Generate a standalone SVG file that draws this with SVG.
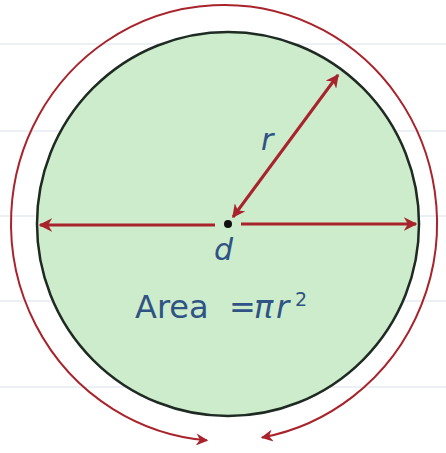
<svg xmlns="http://www.w3.org/2000/svg" width="446" height="453" viewBox="0 0 446 453">
<defs>
<style>
.grid{stroke:#e4ebf0;stroke-width:1.5}
.red{stroke:#a8232b;fill:none}
.lbl{fill:#2f5384;font-family:"DejaVu Sans",Verdana,sans-serif}
</style>
<marker id="ah" viewBox="0 0 10 10" refX="9" refY="5" markerWidth="4.5" markerHeight="4.5" orient="auto-start-reverse" markerUnits="strokeWidth">
<path d="M0,0 L10,5 L0,10 L3,5 Z" fill="#a8232b"/>
</marker>
<marker id="ah2" viewBox="0 0 10 10" refX="9" refY="5" markerWidth="6.5" markerHeight="6" orient="auto-start-reverse" markerUnits="strokeWidth">
<path d="M0,0 L10,5 L0,10 L3,5 Z" fill="#a8232b"/>
</marker>
</defs>
<rect width="446" height="453" fill="#ffffff"/>
<g id="background">
<line class="grid" x1="0" y1="44" x2="446" y2="44"/>
<line class="grid" x1="0" y1="131" x2="446" y2="131"/>
<line class="grid" x1="0" y1="216" x2="446" y2="216"/>
<line class="grid" x1="0" y1="301" x2="446" y2="301"/>
<line class="grid" x1="0" y1="387" x2="446" y2="387"/>
</g>
<g id="circle">
<ellipse cx="228" cy="224" rx="191" ry="192" fill="#cdeccb" stroke="#1e2a22" stroke-width="2.5"/>
<circle cx="228" cy="224" r="4" fill="#111"/>
</g>
<g id="connectors">
<path class="red" stroke-width="2" d="M207,440.3 A213,218 0 1 1 262,437.5" marker-start="url(#ah2)" marker-end="url(#ah2)"/>
<line class="red" stroke-width="3" x1="215" y1="225" x2="40" y2="225" marker-end="url(#ah)"/>
<line class="red" stroke-width="3" x1="241" y1="224" x2="416" y2="224" marker-end="url(#ah)"/>
<line class="red" stroke-width="3" x1="233" y1="217" x2="338" y2="75" marker-start="url(#ah)" marker-end="url(#ah)"/>
</g>
<g id="labels">
<text class="lbl" x="261" y="150" font-size="30" font-style="italic">r</text>
<text class="lbl" x="214" y="260" font-size="30" font-style="italic">d</text>
<text class="lbl" y="318" font-size="32"><tspan x="135">Area</tspan><tspan x="229">=</tspan><tspan x="254" font-style="italic">π</tspan><tspan x="276" font-style="italic">r</tspan><tspan x="295" y="306" font-size="19">2</tspan></text>
</g>
</svg>
